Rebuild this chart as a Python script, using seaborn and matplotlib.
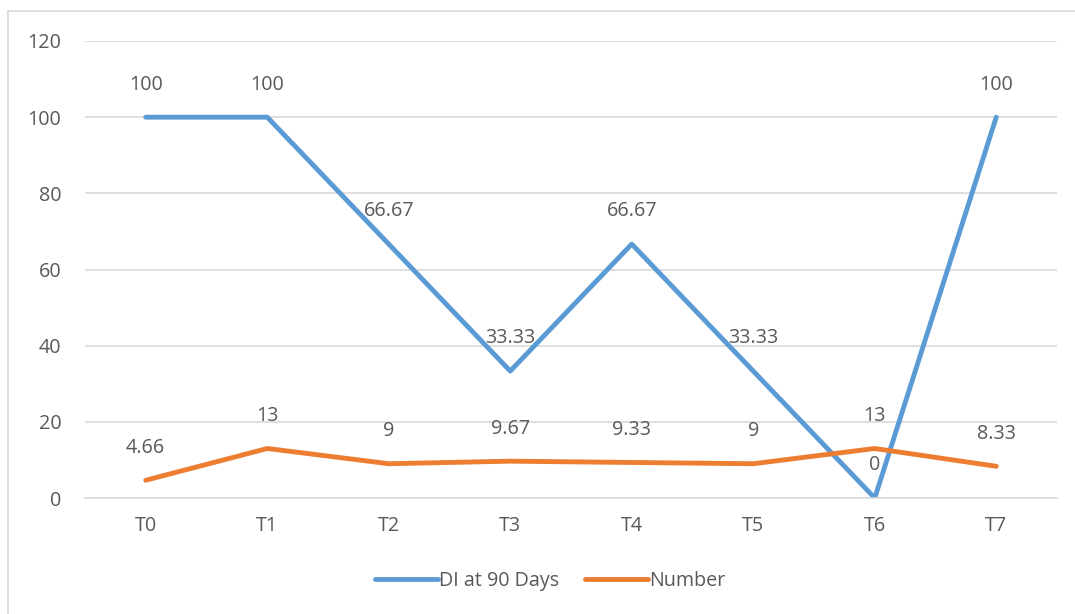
import matplotlib
matplotlib.use("Agg")
import matplotlib.pyplot as plt
import seaborn as sns
import pandas as pd
from matplotlib.patches import Rectangle
from matplotlib.lines import Line2D

categories = ["T0", "T1", "T2", "T3", "T4", "T5", "T6", "T7"]
di_90_days = [100, 100, 66.67, 33.33, 66.67, 33.33, 0, 100]
number = [4.66, 13, 9, 9.67, 9.33, 9, 13, 8.33]
di_labels = ["100", "100", "66.67", "33.33", "66.67", "33.33", "0", "100"]
number_labels = ["4.66", "13", "9", "9.67", "9.33", "9", "13", "8.33"]

sns.set_theme(style="white")
plt.rcParams["font.family"] = ["Open Sans", "DejaVu Sans"]

TEXT = "#595959"
BLUE = "#5B9BD5"
ORANGE = "#ED7D31"
GRID = "#D9D9D9"
FS = 14.2

df = pd.DataFrame({
    "cat": categories * 2,
    "pos": list(range(len(categories))) * 2,
    "value": di_90_days + number,
    "series": ["DI at 90 Days"] * len(categories) + ["Number"] * len(categories),
})

fig = plt.figure(figsize=(10.75, 6.14), dpi=100)
ax = fig.add_axes([85 / 1075, 1 - 498 / 614, (1057 - 85) / 1075, (498 - 41) / 614])

sns.lineplot(data=df, x="pos", y="value", hue="series",
             palette={"DI at 90 Days": BLUE, "Number": ORANGE},
             linewidth=3.5, ax=ax, legend=False, sort=False,
             solid_capstyle="round", solid_joinstyle="round")

# value labels above each point
for i, (v, lab) in enumerate(zip(di_90_days, di_labels)):
    ax.annotate(lab, (i, v), xytext=(0, 23.5), textcoords="offset points",
                ha="center", va="center", fontsize=FS, color=TEXT)
for i, (v, lab) in enumerate(zip(number, number_labels)):
    ax.annotate(lab, (i, v), xytext=(0, 23.5), textcoords="offset points",
                ha="center", va="center", fontsize=FS, color=TEXT)

ax.set_xlim(-0.5, len(categories) - 0.5)
ax.set_ylim(0, 120)
ax.set_yticks(range(0, 121, 20))
ax.set_xticks(range(len(categories)))
ax.set_xticklabels(categories)
ax.yaxis.grid(True, color=GRID, linewidth=1.2)
ax.set_axisbelow(True)
for s in ax.spines.values():
    s.set_visible(False)
ax.spines["bottom"].set_visible(True)
ax.spines["bottom"].set_color(GRID)
ax.spines["bottom"].set_linewidth(1.2)
ax.tick_params(axis="both", length=0, labelsize=FS, colors=TEXT)
ax.tick_params(axis="x", pad=13)
ax.tick_params(axis="y", pad=17)
ax.set_xlabel("")
ax.set_ylabel("")

handles = [Line2D([], [], color=BLUE, linewidth=3.5, solid_capstyle="round"),
           Line2D([], [], color=ORANGE, linewidth=3.5, solid_capstyle="round")]
leg = fig.legend(handles, ["DI at 90 Days", "Number"], loc="center",
                 bbox_to_anchor=(550 / 1075, 1 - 581 / 614), ncol=2, frameon=False,
                 fontsize=FS, handlelength=3.2, handletextpad=0.05, columnspacing=1.3)
for t in leg.get_texts():
    t.set_color(TEXT)

# chart border
fig.patches.append(Rectangle((8 / 1075, -0.05), 1.2, 1 - 11 / 614 + 0.05,
                             transform=fig.transFigure, fill=False,
                             edgecolor=GRID, linewidth=1.2))

fig.savefig("out.png", dpi=100)
